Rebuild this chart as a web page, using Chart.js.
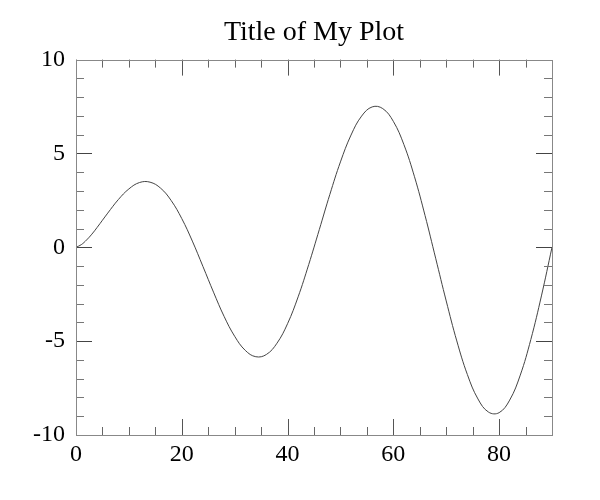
<!DOCTYPE html>
<html>
<head>
<meta charset="utf-8">
<script src="https://cdn.jsdelivr.net/npm/chart.js@4/dist/chart.umd.min.js"></script>
<style>
  html, body { margin: 0; padding: 0; background: #fff; }
  #wrap { width: 600px; height: 500px; }
</style>
</head>
<body>
<div id="wrap"><canvas id="c" width="600" height="500"></canvas></div>
<script>
const chartTitle = 'Title of My Plot';
const xValues = [0,1,2,3,4,6,8,10,12,14,16,18,20,22,24,26,28,30,32,34,36,38,40,42,44,46,48,50,52,54,56,58,60,62,64,66,68,70,72,74,76,78,80,82,84,86,88,90];
const yValues = [0,0.14,0.39,0.70,1.06,1.82,2.54,3.11,3.45,3.47,3.15,2.49,1.53,0.33,-1.02,-2.39,-3.68,-4.74,-5.49,-5.83,-5.71,-5.11,-4.07,-2.64,-0.92,0.94,2.82,4.55,5.98,6.99,7.48,7.39,6.71,5.47,3.76,1.69,-0.58,-2.86,-4.99,-6.78,-8.08,-8.78,-8.81,-8.14,-6.81,-4.91,-2.59,0];
const xTickLabels = [0,20,40,60,80];
const yTickLabels = [-10,-5,0,5,10];
const xMinorTicks = [5,10,15,25,30,35,45,50,55,65,70,75,85];
const yMinorTicks = [-9,-8,-7,-6,-4,-3,-2,-1,1,2,3,4,6,7,8,9];
const xRange = [0, 90];
const yRange = [-10, 10];

const FONT = "'Liberation Serif', serif";

const frameTicks = {
  id: 'frameTicks',
  afterDraw(chart) {
    const {ctx, chartArea: a, scales: {x, y}} = chart;
    ctx.save();
    ctx.lineWidth = 1;
    const line = (x1, y1, x2, y2, col) => {
      ctx.strokeStyle = col;
      ctx.beginPath(); ctx.moveTo(x1, y1); ctx.lineTo(x2, y2); ctx.stroke();
    };
    const MAJ = 16, MIN = 8;
    xTickLabels.forEach(v => {
      const px = Math.round(x.getPixelForValue(v)) + 0.5;
      line(px, a.bottom, px, a.bottom - MAJ, '#555');
      line(px, a.top, px, a.top + MAJ, '#555');
    });
    xMinorTicks.forEach(v => {
      const px = Math.round(x.getPixelForValue(v)) + 0.5;
      line(px, a.bottom, px, a.bottom - MIN, '#666');
      line(px, a.top, px, a.top + MIN, '#666');
    });
    yTickLabels.forEach(v => {
      const py = Math.round(y.getPixelForValue(v)) + 0.5;
      line(a.left, py, a.left + MAJ, py, '#444');
      line(a.right, py, a.right - MAJ, py, '#444');
    });
    yMinorTicks.forEach(v => {
      const py = Math.round(y.getPixelForValue(v)) + 0.5;
      line(a.left, py, a.left + MIN, py, '#777');
      line(a.right, py, a.right - MIN, py, '#777');
    });
    ctx.strokeStyle = '#888';
    ctx.strokeRect(Math.round(a.left) + 0.5, Math.round(a.top) + 0.5,
                   Math.round(a.right - a.left), Math.round(a.bottom - a.top));
    ctx.restore();
  }
};

new Chart(document.getElementById('c'), {
  type: 'line',
  data: {
    datasets: [{
      data: xValues.map((v, i) => ({x: v, y: yValues[i]})),
      borderColor: '#444',
      borderWidth: 1,
      pointRadius: 0,
      tension: 0.4,
      fill: false
    }]
  },
  options: {
    responsive: false,
    animation: false,
    layout: { padding: { left: 0, right: 48, top: 0, bottom: 0 } },
    plugins: {
      legend: { display: false },
      tooltip: { enabled: false },
      title: {
        display: true,
        fullSize: false,
        text: chartTitle,
        color: '#000',
        font: { family: FONT, size: 28, weight: 'normal' },
        padding: { top: 16, bottom: 10 }
      }
    },
    scales: {
      x: {
        type: 'linear',
        min: xRange[0], max: xRange[1],
        grid: { display: false, drawTicks: false },
        border: { display: false },
        afterBuildTicks: s => { s.ticks = xTickLabels.map(v => ({value: v})); },
        afterFit: s => { s.height = 65; },
        ticks: {
          color: '#000',
          padding: 5,
          maxRotation: 0,
          font: { family: FONT, size: 24 }
        }
      },
      y: {
        type: 'linear',
        min: yRange[0], max: yRange[1],
        grid: { display: false, drawTicks: false },
        border: { display: false },
        afterBuildTicks: s => { s.ticks = yTickLabels.map(v => ({value: v})); },
        afterFit: s => { s.width = 76; },
        ticks: {
          color: '#000',
          padding: 11,
          font: { family: FONT, size: 24 }
        }
      }
    }
  },
  plugins: [frameTicks]
});
</script>
</body>
</html>
